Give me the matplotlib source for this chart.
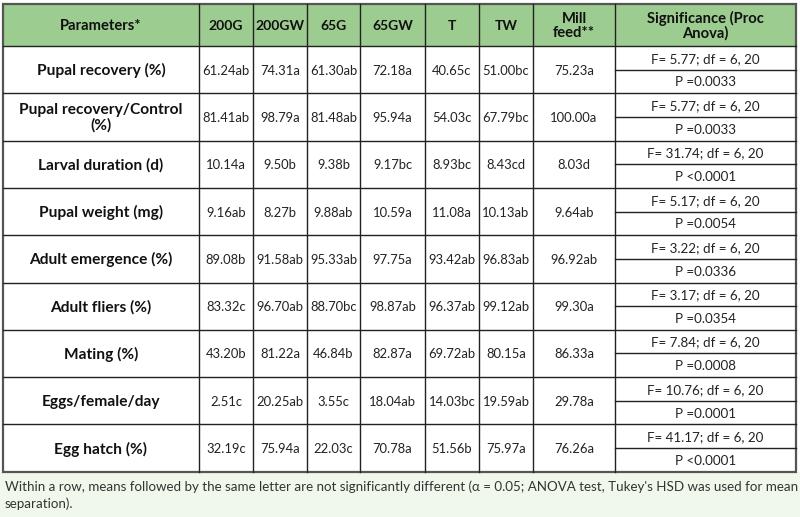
import matplotlib
matplotlib.use("Agg")
from matplotlib import pyplot as plt
from matplotlib.patches import Rectangle

plt.rcParams['font.family'] = ['Lato', 'DejaVu Sans']

# Table content
headers = ["Parameters*", "200G", "200GW", "65G", "65GW", "T", "TW",
           "Mill\nfeed**", "Significance (Proc\nAnova)"]
parameters = ["Pupal recovery (%)", "Pupal recovery/Control\n(%)",
              "Larval duration (d)", "Pupal weight (mg)",
              "Adult emergence (%)", "Adult fliers (%)", "Mating (%)",
              "Eggs/female/day", "Egg hatch (%)"]
g200 = ["61.24ab", "81.41ab", "10.14a", "9.16ab", "89.08b", "83.32c",
        "43.20b", "2.51c", "32.19c"]
gw200 = ["74.31a", "98.79a", "9.50b", "8.27b", "91.58ab", "96.70ab",
         "81.22a", "20.25ab", "75.94a"]
g65 = ["61.30ab", "81.48ab", "9.38b", "9.88ab", "95.33ab", "88.70bc",
       "46.84b", "3.55c", "22.03c"]
gw65 = ["72.18a", "95.94a", "9.17bc", "10.59a", "97.75a", "98.87ab",
        "82.87a", "18.04ab", "70.78a"]
t = ["40.65c", "54.03c", "8.93bc", "11.08a", "93.42ab", "96.37ab",
     "69.72ab", "14.03bc", "51.56b"]
tw = ["51.00bc", "67.79bc", "8.43cd", "10.13ab", "96.83ab", "99.12ab",
      "80.15a", "19.59ab", "75.97a"]
mill = ["75.23a", "100.00a", "8.03d", "9.64ab", "96.92ab", "99.30a",
        "86.33a", "29.78a", "76.26a"]
f_values = ["5.77", "5.77", "31.74", "5.17", "3.22", "3.17", "7.84",
            "10.76", "41.17"]
p_values = ["=0.0033", "=0.0033", "<0.0001", "=0.0054", "=0.0336",
            "=0.0354", "=0.0008", "=0.0001", "<0.0001"]
footnote = ("Within a row, means followed by the same letter are not significantly "
            "different (\u03b1 = 0.05; ANOVA test, Tukey's HSD was used for mean\n"
            "separation).")

# Layout (pixels)
col_x = [3, 199, 253, 307, 360, 425, 479, 533, 615, 796]
top, head_bot, row_h = 4, 46, 47.3
bottom = head_bot + row_h * len(parameters)

fig = plt.figure(figsize=(8, 5.17), dpi=100)
ax = fig.add_axes([0, 0, 1, 1])
ax.set_xlim(0, 800)
ax.set_ylim(517, 0)
ax.axis("off")

green = "#9ccc8f"
line_c = "#222222"

# backgrounds
ax.add_patch(Rectangle((0, bottom), 800, 517 - bottom, color="#eff8ea", lw=0))
ax.add_patch(Rectangle((col_x[0], top), col_x[-1] - col_x[0], head_bot - top,
                       color=green, lw=0))

# header text
for i, h in enumerate(headers):
    cx = (col_x[i] + col_x[i + 1]) / 2
    ax.text(cx, (top + head_bot) / 2 + 1, h, ha="center", va="center",
            fontsize=10.6 if i in (0, 7, 8) else 10, fontweight="bold",
            linespacing=1.05, color="#111111")

columns = [g200, gw200, g65, gw65, t, tw, mill]
for r, p in enumerate(parameters):
    y0 = head_bot + r * row_h
    cy = y0 + row_h / 2
    ax.text((col_x[0] + col_x[1]) / 2, cy + 1, p, ha="center", va="center",
            fontsize=11.2, fontweight="bold", linespacing=1.05,
            color="#111111")
    for c, vals in enumerate(columns):
        ax.text((col_x[c + 1] + col_x[c + 2]) / 2, cy + 1, vals[r],
                ha="center", va="center", fontsize=9.4, color="#222222")
    sx = (col_x[-2] + col_x[-1]) / 2
    ax.text(sx, y0 + row_h / 4 + 1, "F= %s; df = 6, 20" % f_values[r],
            ha="center", va="center", fontsize=9.6, color="#222222")
    ax.text(sx, y0 + 3 * row_h / 4 + 1, "P %s" % p_values[r],
            ha="center", va="center", fontsize=9.6, color="#222222")
    # grid lines
    ax.plot([col_x[-2], col_x[-1]], [cy, cy], color=line_c, lw=1)
    ax.plot([col_x[0], col_x[-1]], [y0, y0], color=line_c, lw=1)

for x in col_x[1:-1]:
    ax.plot([x, x], [top, bottom], color=line_c, lw=1)

# outer border
ax.add_patch(Rectangle((col_x[0], top), col_x[-1] - col_x[0], bottom - top,
                       fill=False, ec="#555555", lw=1.6))

ax.text(5, bottom + 9, footnote, ha="left", va="top", fontsize=9.6,
        color="#333333", linespacing=1.4)

fig.savefig("out.png", dpi=100)
